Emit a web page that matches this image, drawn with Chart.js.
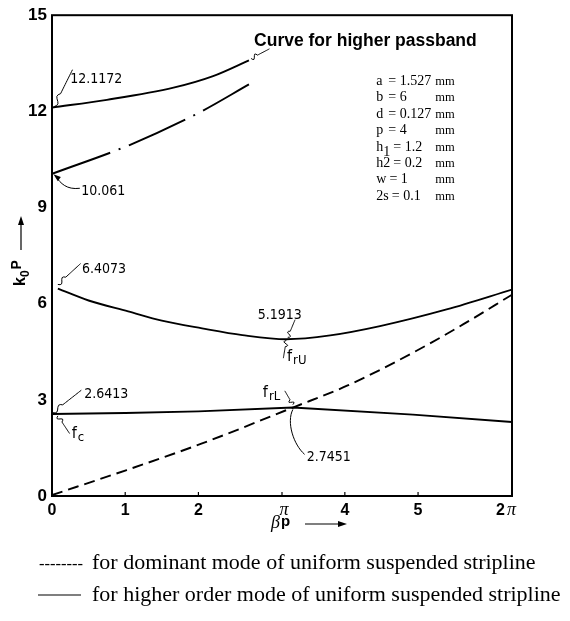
<!DOCTYPE html>
<html>
<head>
<meta charset="utf-8">
<script src="https://cdn.jsdelivr.net/npm/chart.js@4.4.1/dist/chart.umd.min.js"></script>
<style>
  html, body { margin: 0; padding: 0; background: #fff; }
  #wrap { width: 570px; height: 621px; }
</style>
</head>
<body>
<div id="wrap"><canvas id="chart" width="570" height="621"></canvas></div>
<script>
// beta*p values and k0*p values
const betaUpper = [0, 0.75, 1.66, 2.2, 2.69];
const kUpper = [12.12, 12.36, 12.74, 13.1, 13.59];

const betaDashDot = [0, 1.06, 2.01, 2.69];
const kDashDot = [10.05, 10.95, 11.96, 12.84];

const betaMiddle = [0.08, 0.5, 1.04, 1.5, 2.05, 2.6, 3.2, 3.8, 4.48, 5.39, 6.283];
const kMiddle = [6.47, 6.1, 5.76, 5.47, 5.23, 5.02, 4.89, 5.01, 5.3, 5.82, 6.44];

const betaLower = [0, 1, 2, 3.29, 4.93, 6.283];
const kLower = [2.56, 2.59, 2.64, 2.76, 2.54, 2.31];

const betaDominant = [0, 1.02, 2.05, 3.29, 4.03, 4.93, 5.62, 6.283];
const kDominant = [0.03, 0.81, 1.64, 2.76, 3.44, 4.47, 5.36, 6.28];

const xTicks = [0, 1, 2, Math.PI, 4, 5, 2 * Math.PI];
const xTickLabels = ["0", "1", "2", "π", "4", "5", "2π"];
const yTicks = [0, 3, 6, 9, 12, 15];

const params = [
    ["a", "", "= 1.527", "mm"],
    ["b", "", "= 6", "mm"],
    ["d", "", "= 0.127", "mm"],
    ["p", "", "= 4", "mm"],
    ["h", "1", "= 1.2", "mm"],
    ["h2", "", "= 0.2", "mm"],
    ["w", "", "= 1", "mm"],
    ["2s", "", "= 0.1", "mm"],
];

const pts = (xs, ys) => xs.map((x, i) => ({ x: x, y: ys[i] }));

const SANS = "'Liberation Sans', Arial, sans-serif";
const SERIF = "'Liberation Serif', 'Times New Roman', serif";
const HAND = "'Liberation Sans Narrow', 'DejaVu Sans Condensed', sans-serif";

function squiggle(ctx, x0, y0, x1, y1) {
    // small wavy leader line like the hand-drawn ones
    const dx = x1 - x0, dy = y1 - y0;
    const len = Math.hypot(dx, dy);
    const nx = -dy / len, ny = dx / len;
    ctx.beginPath();
    ctx.moveTo(x0, y0);
    const steps = 20;
    for (let i = 1; i <= steps; i++) {
        const t = i / steps;
        const w = t < 0.35 ? Math.sin(t / 0.35 * Math.PI * 2) * 2.2 : 0;
        ctx.lineTo(x0 + dx * t + nx * w, y0 + dy * t + ny * w);
    }
    ctx.stroke();
}

const decor = {
    id: "decor",
    afterDraw(chart) {
        const ctx = chart.ctx;
        const xs = chart.scales.x, ys = chart.scales.y;
        const area = chart.chartArea;
        const X = v => xs.getPixelForValue(v);
        const Y = v => ys.getPixelForValue(v);
        ctx.save();
        ctx.fillStyle = "#000";
        ctx.strokeStyle = "#000";

        // frame
        ctx.lineWidth = 2;
        ctx.strokeRect(area.left, area.top, area.right - area.left, area.bottom - area.top);

        // x ticks and labels
        ctx.lineWidth = 1.2;
        ctx.textBaseline = "alphabetic";
        xTicks.forEach((t, i) => {
            const px = X(t);
            ctx.beginPath();
            ctx.moveTo(px, area.bottom);
            ctx.lineTo(px, area.bottom - 4);
            ctx.stroke();
            const lab = xTickLabels[i];
            const base = area.bottom + 19;
            if (lab === "π") {
                ctx.font = "italic 18px " + SERIF;
                ctx.textAlign = "center";
                ctx.fillText("π", px + 2, base);
            } else if (lab === "2π") {
                ctx.font = "bold 16px " + SANS;
                const w1 = ctx.measureText("2").width;
                ctx.textAlign = "left";
                const left = px - 16;
                ctx.fillText("2", left, base);
                ctx.font = "italic 18px " + SERIF;
                ctx.fillText("π", left + w1 + 2, base);
            } else {
                ctx.font = "bold 16px " + SANS;
                ctx.textAlign = "center";
                ctx.fillText(lab, px, base);
            }
        });

        // x axis title: beta p -->
        const tx = 271, ty = area.bottom + 27;
        ctx.textAlign = "left";
        ctx.textBaseline = "middle";
        ctx.font = "italic 18px " + SERIF;
        ctx.fillText("β", tx, ty);
        ctx.font = "bold 15px " + SANS;
        ctx.fillText("p", tx + 10, ty - 1);
        ctx.lineWidth = 1.2;
        ctx.beginPath();
        ctx.moveTo(305, ty + 1);
        ctx.lineTo(343, ty + 1);
        ctx.stroke();
        ctx.beginPath();
        ctx.moveTo(347, ty + 1);
        ctx.lineTo(338, ty - 2);
        ctx.lineTo(338, ty + 4);
        ctx.closePath();
        ctx.fill();

        // y axis title: k0p with arrow
        ctx.save();
        ctx.translate(19, 286);
        ctx.rotate(-Math.PI / 2);
        ctx.textBaseline = "alphabetic";
        ctx.textAlign = "left";
        ctx.font = "bold 16px " + SANS;
        ctx.fillText("k", 0, 6);
        const kw = ctx.measureText("k").width;
        ctx.font = "bold 12px " + SANS;
        ctx.fillText("0", kw, 10);
        const zw = ctx.measureText("0").width;
        ctx.font = "bold 14px " + SANS;
        ctx.fillText("P", kw + zw + 1, 2);
        ctx.restore();
        ctx.lineWidth = 1.2;
        ctx.beginPath();
        ctx.moveTo(21, 250);
        ctx.lineTo(21, 222);
        ctx.stroke();
        ctx.beginPath();
        ctx.moveTo(21, 216);
        ctx.lineTo(18, 225);
        ctx.lineTo(24, 225);
        ctx.closePath();
        ctx.fill();

        // curve annotations
        ctx.textBaseline = "alphabetic";
        ctx.textAlign = "left";
        ctx.font = "14px " + HAND;
        ctx.lineWidth = 1;
        const label = (txt, bx, ky) => ctx.fillText(txt, X(bx), Y(ky));
        label("12.1172", 0.25, 12.87);
        label("10.061", 0.40, 9.38);
        label("6.4073", 0.41, 6.96);
        label("5.1913", 2.81, 5.53);
        label("2.6413", 0.44, 3.06);
        label("2.7451", 3.48, 1.1);
        const fsub = (sub, bx, ky) => {
            ctx.font = "16px " + HAND;
            ctx.fillText("f", X(bx), Y(ky));
            const fw = ctx.measureText("f").width;
            ctx.font = "13px " + HAND;
            ctx.fillText(sub, X(bx) + fw + 1, Y(ky) + 3);
        };
        fsub("c", 0.27, 1.8);
        fsub("rU", 3.21, 4.22);
        fsub("rL", 2.88, 3.1);

        squiggle(ctx, X(0.03), Y(12.15), X(0.28), Y(13.3));
        squiggle(ctx, X(0.08), Y(6.6), X(0.39), Y(7.25));
        squiggle(ctx, X(0.01), Y(2.6), X(0.40), Y(3.3));
        squiggle(ctx, X(3.22), Y(4.95), X(3.32), Y(5.5));
        squiggle(ctx, X(0.08), Y(2.5), X(0.24), Y(1.95));
        squiggle(ctx, X(3.2), Y(4.85), X(3.16), Y(4.3));
        squiggle(ctx, X(3.29), Y(2.85), X(3.18), Y(3.28));
        squiggle(ctx, X(2.72), Y(13.65), X(2.97), Y(13.95));
        // 2.7451 leader
        ctx.beginPath();
        ctx.moveTo(X(3.29), Y(2.7));
        ctx.bezierCurveTo(X(3.2), Y(2.3), X(3.3), Y(1.6), X(3.45), Y(1.3));
        ctx.stroke();
        // 10.061 arrow
        ctx.beginPath();
        ctx.moveTo(X(0.38), Y(9.6));
        ctx.bezierCurveTo(X(0.2), Y(9.55), X(0.12), Y(9.75), X(0.05), Y(9.97));
        ctx.stroke();
        ctx.beginPath();
        ctx.moveTo(X(0.02), Y(10.04));
        ctx.lineTo(X(0.12), Y(9.95));
        ctx.lineTo(X(0.08), Y(9.82));
        ctx.closePath();
        ctx.fill();

        ctx.font = "bold 17.5px " + SANS;
        label("Curve for higher passband", 2.76, 14.05);

        // parameter block
        const px0 = X(4.43);
        let py0 = Y(12.82);
        params.forEach(p => {
            ctx.font = "14px " + SERIF;
            ctx.fillText(p[0], px0, py0);
            let w = ctx.measureText(p[0]).width;
            if (p[1]) {
                ctx.fillText(p[1], px0 + w, py0 + 5);
                w += ctx.measureText(p[1]).width;
            }
            ctx.fillText(p[2], Math.max(px0 + 12, px0 + w + 3), py0);
            ctx.font = "12.5px " + SERIF;
            ctx.fillText(p[3], px0 + 59, py0);
            py0 += 16.4;
        });

        // legend below the plot
        ctx.font = "16.5px " + SERIF;
        ctx.textAlign = "right";
        ctx.fillText("--------", 83, 569);
        ctx.font = "22px " + SERIF;
        ctx.textAlign = "left";
        ctx.fillText("for dominant mode of uniform suspended stripline", 92, 569);
        ctx.lineWidth = 1.2;
        ctx.beginPath();
        ctx.moveTo(38, 595);
        ctx.lineTo(81, 595);
        ctx.stroke();
        ctx.fillText("for higher order mode of uniform suspended stripline", 92, 601);

        ctx.restore();
    },
};

const lineStyle = { borderColor: "#000", borderWidth: 1.9, pointRadius: 0, fill: false };

new Chart(document.getElementById("chart").getContext("2d"), {
    type: "line",
    data: {
        datasets: [
            Object.assign({ label: "upper", data: pts(betaUpper, kUpper), cubicInterpolationMode: "monotone" }, lineStyle),
            Object.assign({ label: "upper dash-dot", data: pts(betaDashDot, kDashDot), cubicInterpolationMode: "monotone", borderDash: [62, 9, 2, 9] }, lineStyle),
            Object.assign({ label: "middle", data: pts(betaMiddle, kMiddle), cubicInterpolationMode: "monotone" }, lineStyle),
            Object.assign({ label: "lower", data: pts(betaLower, kLower), tension: 0 }, lineStyle),
            Object.assign({ label: "dominant", data: pts(betaDominant, kDominant), cubicInterpolationMode: "monotone", borderDash: [11, 6] }, lineStyle),
        ],
    },
    options: {
        responsive: false,
        animation: false,
        layout: { padding: { left: 0, top: 12, right: 58, bottom: 125 } },
        plugins: { legend: { display: false }, tooltip: { enabled: false } },
        scales: {
            x: {
                type: "linear",
                min: 0,
                max: 2 * Math.PI,
                grid: { display: false, drawTicks: false },
                border: { display: false },
                ticks: { display: false },
                afterFit: s => { s.height = 0; },
            },
            y: {
                min: 0,
                max: 15,
                grid: { display: false, drawTicks: false },
                border: { display: false },
                afterBuildTicks: s => { s.ticks = yTicks.map(v => ({ value: v })); },
                ticks: {
                    color: "#000",
                    padding: 5,
                    font: { family: SANS, size: 17, weight: "bold" },
                },
                afterFit: s => { s.width = 52; },
            },
        },
    },
    plugins: [decor],
});
</script>
</body>
</html>
